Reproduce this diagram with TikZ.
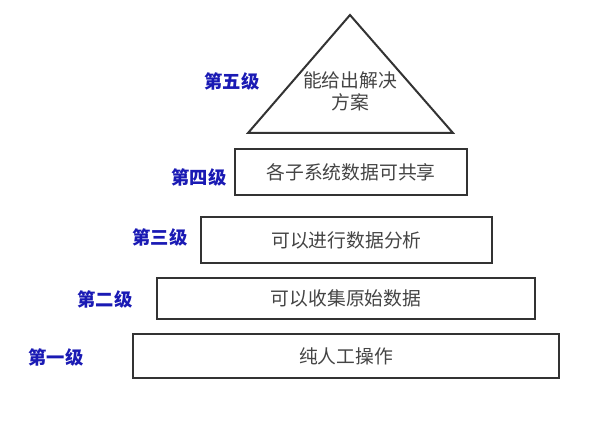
\documentclass[tikz,border=0pt]{standalone}
\usepackage{fontspec}
\usepackage{xcolor}
\usepackage{tikz}
\newfontfamily\cjk{Noto Sans CJK SC}
\definecolor{edgegray}{HTML}{333333}
\definecolor{textgray}{HTML}{444444}
\definecolor{levelblue}{HTML}{1A1AB4}
\tikzset{
  levelbox/.style={draw=edgegray,line width=2pt,inner sep=0pt,font=\cjk\fontsize{18.8}{22}\selectfont,text=textgray},
  levellabel/.style={font=\cjk\bfseries\fontsize{18.3}{20}\selectfont,text=levelblue}
}
\begin{document}
\begin{tikzpicture}[x=1pt,y=-1pt]
\useasboundingbox (0,0) rectangle (600,433);
% top level drawn as a triangle
\coordinate (apex) at (350,15);
\coordinate (baseL) at (248,133);
\coordinate (baseR) at (453,133);
\draw[draw=edgegray,line width=2pt,line join=miter] (apex) -- (baseR) -- (baseL) -- cycle;
\node[font=\cjk\fontsize{18.8}{22}\selectfont,text=textgray,align=center] (top) at (350,91) {能给出解决\\方案};

% boxes, widths
\node[levelbox,minimum width=232pt,minimum height=46pt] (box4) at (351,172) {各子系统数据可共享};
\node[levelbox,minimum width=291pt,minimum height=46pt] (box3) at (346.5,240) {可以进行数据分析};
\node[levelbox,minimum width=378pt,minimum height=41pt] (box2) at (346,298.5) {可以收集原始数据};
\node[levelbox,minimum width=426pt,minimum height=44pt] (box1) at (346,356) {纯人工操作};

% level names on the left
\node[levellabel] (lab5) at (232,81) {第五级};
\node[levellabel] (lab4) at (199,177) {第四级};
\node[levellabel] (lab3) at (160,237) {第三级};
\node[levellabel] (lab2) at (105,299) {第二级};
\node[levellabel] (lab1) at (56,357) {第一级};
\end{tikzpicture}
\end{document}
